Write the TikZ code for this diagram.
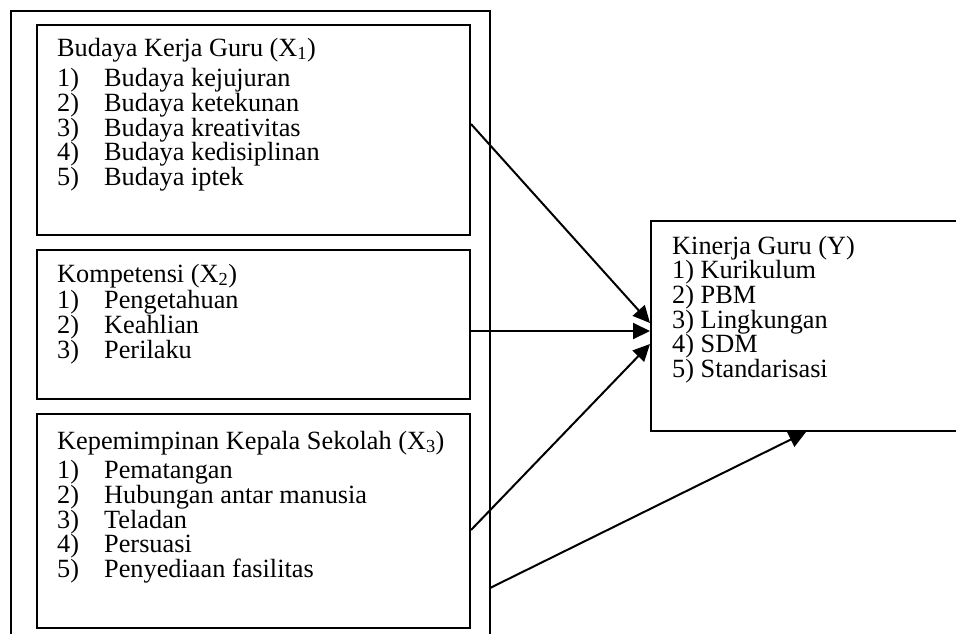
\documentclass[tikz,border=0pt]{standalone}
\usepackage{fontspec}
\setmainfont{Liberation Serif}
\usetikzlibrary{arrows.meta}

\newcommand{\itm}[2]{\makebox[47pt][l]{#1)}#2}

\begin{document}
\begin{tikzpicture}[x=1pt, y=-1pt, >={Triangle[length=17pt, width=16pt]},
  every node/.style={font=\fontsize{26.3}{24.7}\selectfont},
  varbox/.style={draw, line width=2pt, anchor=north west, inner sep=0pt, minimum width=433pt},
  txt/.style={anchor=base west, inner sep=0pt},
  link/.style={->, line width=2pt}]
  \useasboundingbox (0,0) rectangle (956,633);
  \draw[line width=2pt] (11,640) |- (490,11) -- (490,640);
  \coordinate (frame4) at (490,588);

  \node[varbox, minimum height=210pt] (budaya) at (36,24) {};
  \node[varbox, minimum height=149pt] (komp) at (36,249) {};
  \node[varbox, minimum height=214pt] (pimpin) at (36,413) {};
  \node[varbox, minimum width=360pt, minimum height=210pt] (kinerja) at (650,220) {};

  \node[txt] (budayatxt) at (57,56) {\parbox[t]{420pt}{Budaya Kerja Guru (X\textsubscript{1})\\[6pt]
    \itm{1}{Budaya kejujuran}\\ \itm{2}{Budaya ketekunan}\\ \itm{3}{Budaya kreativitas}\\
    \itm{4}{Budaya kedisiplinan}\\ \itm{5}{Budaya iptek}}};
  \node[txt] (komptxt) at (57,282) {\parbox[t]{420pt}{Kompetensi (X\textsubscript{2})\\[2pt]
    \itm{1}{Pengetahuan}\\ \itm{2}{Keahlian}\\ \itm{3}{Perilaku}}};
  \node[txt] (pimpintxt) at (57,449) {\parbox[t]{420pt}{Kepemimpinan Kepala Sekolah (X\textsubscript{3})\\[5pt]
    \itm{1}{Pematangan}\\ \itm{2}{Hubungan antar manusia}\\ \itm{3}{Teladan}\\
    \itm{4}{Persuasi}\\ \itm{5}{Penyediaan fasilitas}}};
  \node[txt] (kinerjatxt) at (672,254) {\parbox[t]{280pt}{Kinerja Guru (Y)\\
    1) Kurikulum\\ 2) PBM\\ 3) Lingkungan\\ 4) SDM\\ 5) Standarisasi}};

  \draw[link] ([yshift=6pt]budaya.east) -- ([yshift=3pt]kinerja.west);
  \draw[link] ([yshift=-6.5pt]komp.east) -- ([yshift=-5pt]kinerja.west);
  \draw[link] ([yshift=-9pt]pimpin.east) -- ([yshift=-18pt]kinerja.west);
  \draw[link] (frame4) -- ([xshift=-25pt]kinerja.south);
\end{tikzpicture}
\end{document}
